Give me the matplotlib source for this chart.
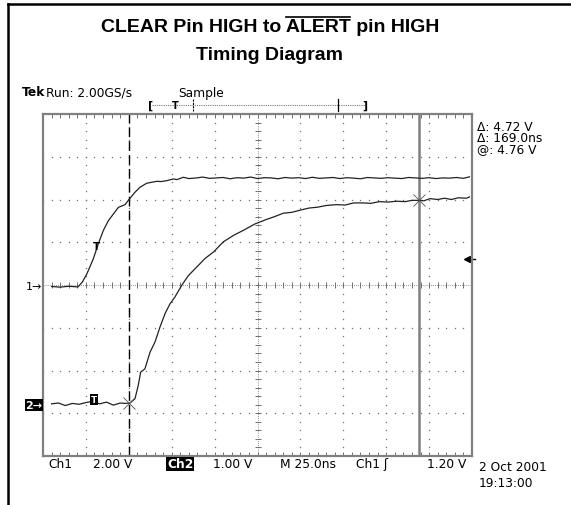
import numpy as np
import matplotlib
matplotlib.use("Agg")
import matplotlib.pyplot as plt
from matplotlib.lines import Line2D

W, H = 571, 506

# ---- data (time in ns from left edge, volts) ----
ch1_t = [5, 10, 15, 20.4, 23, 25.5, 29.3, 32.2, 35.1, 38.1, 41.0, 43.9, 47.8, 50.3,
         53.6, 56.5, 60.4, 63, 66.3, 69, 72.1, 75.9, 78, 81.8, 85, 89.6, 93, 97,
         101.2, 105, 109, 113, 117, 121, 125, 129, 133, 137, 141, 145, 149, 153,
         157, 161, 165, 169, 173, 177, 181, 185, 189, 193, 197, 201, 205, 209,
         213, 217, 221, 225, 229, 233, 237, 241, 245, 248.5]
ch1_v = [-0.07, -0.10, -0.06, -0.09, 0.15, 0.51, 1.22, 1.92, 2.54, 3.01, 3.32, 3.63,
         3.76, 4.02, 4.34, 4.57, 4.76, 4.80, 4.85, 4.84, 4.88, 4.96, 4.93, 5.04,
         4.98, 5.01, 5.05, 4.99, 5.01, 5.03, 4.97, 5.02, 5.00, 5.05, 4.98, 5.02,
         5.01, 4.97, 5.03, 5.00, 5.02, 4.98, 5.04, 4.99, 5.01, 5.03, 4.98, 5.02,
         5.00, 4.97, 5.03, 5.01, 4.99, 5.02, 5.00, 4.98, 5.03, 5.01, 4.99, 5.02,
         4.98, 5.01, 5.00, 5.03, 4.99, 5.06]

ch2_t = [5, 9, 13, 17, 21, 25, 29, 33, 37, 41, 45, 48, 50.7, 53.6, 55.5, 56.9, 59.4,
         62.4, 65.3, 68.2, 71.1, 74.0, 76.9, 80.8, 84.7, 89.6, 94.4, 99.3, 105.1,
         111.0, 116.8, 123.6, 130, 135, 140.1, 145, 149.8, 155, 160, 165, 171.2,
         176, 181, 186.7, 191, 196, 201, 206.1, 211, 215, 218.7, 222, 225.5, 230,
         234, 238, 242, 246.9, 248.5]
ch2_v = [0.02, 0.04, -0.02, 0.03, 0.01, 0.05, 0.08, 0.02, 0.06, -0.01, 0.04, 0.03,
         0.04, 0.14, 0.45, 0.76, 0.84, 1.23, 1.47, 1.82, 2.13, 2.36, 2.52, 2.79,
         3.02, 3.22, 3.42, 3.57, 3.81, 3.96, 4.08, 4.23, 4.33, 4.40, 4.48, 4.50,
         4.55, 4.60, 4.62, 4.66, 4.68, 4.67, 4.72, 4.72, 4.71, 4.75, 4.74, 4.76,
         4.75, 4.78, 4.78, 4.77, 4.82, 4.80, 4.83, 4.80, 4.84, 4.83, 4.86]

ch1_scale, ch1_offset = 2.0, 0.0     # V/div, div
ch2_scale, ch2_offset = 1.0, -2.8
cursor_t = [50.1, 219.2]
trig_level = 1.20

title1 = "CLEAR Pin HIGH to ALERT pin HIGH"
title_bar = "ALERT"
title2 = "Timing Diagram"
readout = ["\u0394: 4.72 V", "\u0394: 169.0ns", "@: 4.76 V"]

fig = plt.figure(figsize=(W / 100, H / 100), dpi=100)

def fx(x):
    return x / W

def fy(y):
    return 1 - y / H

# outer frame (top and left)
fig.add_artist(Line2D([fx(8), fx(571)], [fy(5), fy(5)], color="black", lw=1.8))
fig.add_artist(Line2D([fx(8), fx(8)], [fy(5), fy(506)], color="black", lw=1.8))

tkw = dict(fontsize=14, fontweight="bold", family="Liberation Sans")
t1 = fig.text(fx(270), fy(28), title1, ha="center", va="center", **tkw)
fig.text(fx(270), fy(55), title2, ha="center", va="center", **tkw)

# overline above ALERT
rend = fig.canvas.get_renderer()
bb = t1.get_window_extent(rend)
pre = title1[:title1.index(title_bar) + len(title_bar)]
tmp1 = fig.text(0, 0, pre, **tkw)
tmp2 = fig.text(0, 0, title_bar, **tkw)
w_pre = tmp1.get_window_extent(rend).width
w_bar = tmp2.get_window_extent(rend).width
tmp1.remove()
tmp2.remove()
x_end = bb.x0 + w_pre
x_start = x_end - w_bar
y_bar = fy(17.5)
fig.add_artist(Line2D([x_start / W + 0.001, x_end / W - 0.001], [y_bar, y_bar],
                      color="black", lw=1.2))

ax = fig.add_axes([fx(43), fy(457), 429 / W, 342 / H])
ax.set_xlim(0, 250)
ax.set_ylim(-4, 4)
ax.set_xticks([])
ax.set_yticks([])
for s in ax.spines.values():
    s.set_color("#808080")
    s.set_linewidth(1.6)

gc = "#707070"
# graticule dots
for k in range(1, 10):
    if k == 5:
        continue
    xs = k * 25
    ax.plot([xs] * 41, np.linspace(-4, 4, 41), ls="none", marker="s", ms=0.9,
            mec="none", mfc=gc)
for k in range(-3, 4):
    if k == 0:
        continue
    ax.plot(np.linspace(0, 250, 51), [k] * 51, ls="none", marker="s", ms=0.9,
            mec="none", mfc=gc)
# center axes with small ticks
ax.plot([125, 125], [-4, 4], color=gc, lw=0.6, ls=(0, (1, 1.5)))
ax.plot([0, 250], [0, 0], color=gc, lw=0.6, ls=(0, (1, 1.5)))
ax.plot([125] * 41, np.linspace(-4, 4, 41), ls="none", marker="_", ms=5,
        mew=0.7, color=gc)
ax.plot(np.linspace(0, 250, 51), [0] * 51, ls="none", marker="|", ms=5,
        mew=0.7, color=gc)
# edge ticks
ax.plot([0] * 41, np.linspace(-4, 4, 41), ls="none", marker=0, ms=3, mew=0.7, color=gc)
ax.plot([250] * 41, np.linspace(-4, 4, 41), ls="none", marker=1, ms=3, mew=0.7, color=gc)
ax.plot(np.linspace(0, 250, 51), [4] * 51, ls="none", marker=3, ms=3, mew=0.7, color=gc)
ax.plot(np.linspace(0, 250, 51), [-4] * 51, ls="none", marker=2, ms=3, mew=0.7, color=gc)

# cursors
ax.axvline(cursor_t[0], color="black", lw=1.0, ls=(0, (7, 3)))
ax.axvline(cursor_t[1], color="#808080", lw=1.8)

# traces
y1 = np.array(ch1_v) / ch1_scale + ch1_offset
y2 = np.array(ch2_v) / ch2_scale + ch2_offset
ax.plot(ch1_t, y1, color="#222222", lw=0.9)
ax.plot(ch2_t, y2, color="#222222", lw=0.9)

# cursor crossings on ch2
for ct in cursor_t:
    ax.plot(ct, np.interp(ct, ch2_t, y2), marker="x", ms=9, mew=0.6,
            color="#555555")

# trigger marks
ax.text(31.3, np.interp(31.3, ch1_t, y1) + 0.05, "T", fontsize=7.5, ha="center",
        va="center", fontweight="bold", family="DejaVu Sans")
ax.text(29.5, ch2_offset + 0.12, "T", fontsize=6.5, ha="center", va="center",
        color="white", fontweight="bold",
        bbox=dict(facecolor="black", edgecolor="none", pad=0.6))
ax.plot(247, trig_level / ch1_scale + ch1_offset, marker="<", ms=5, color="black")
ax.plot([247, 252], [trig_level / ch1_scale] * 2, color="black", lw=1.0, clip_on=False)

sf = "DejaVu Sans"
fs = 8.8
# channel markers on left
fig.text(fx(34), fy(287), "1\u2192", fontsize=fs - 0.8, ha="center", va="center",
         family=sf)
fig.text(fx(34), fy(406), "2\u2192", fontsize=fs - 0.8, ha="center", va="center",
         family=sf, color="white", fontweight="bold",
         bbox=dict(facecolor="black", edgecolor="none", pad=0.5))

# header
fig.text(fx(22), fy(93), "Tek", fontsize=fs, fontweight="bold", ha="left", va="center",
         family=sf)
fig.text(fx(46), fy(93), "Run: 2.00GS/s", fontsize=fs, ha="left", va="center", family=sf)
fig.text(fx(178), fy(93), "Sample", fontsize=fs, ha="left", va="center", family=sf)

# record bar
fig.add_artist(Line2D([fx(152), fx(366)], [fy(106), fy(106)], color="#777777", lw=0.8,
                      ls=(0, (1, 1))))
fig.text(fx(151), fy(106), "[", fontsize=8, ha="center", va="center", family=sf,
         fontweight="bold")
fig.text(fx(365), fy(106), "]", fontsize=8, ha="center", va="center", family=sf,
         fontweight="bold")
fig.text(fx(175), fy(106), "T", fontsize=7, ha="center", va="center", family=sf,
         fontweight="bold")
fig.add_artist(Line2D([fx(193), fx(193)], [fy(100), fy(112)], color="black", lw=0.8,
                      ls=(0, (2, 1))))
fig.add_artist(Line2D([fx(338), fx(338)], [fy(100), fy(112)], color="black", lw=0.9))

# readouts
fig.text(fx(477), fy(121), "\n".join(readout), fontsize=fs, ha="left", va="top",
         family=sf, linespacing=0.8)

# bottom status line
by = fy(465)
fig.text(fx(48), by, "Ch1", fontsize=fs, ha="left", va="center", family=sf)
fig.text(fx(93), by, "2.00 V", fontsize=fs, ha="left", va="center", family=sf)
fig.text(fx(167), by, "Ch2", fontsize=fs, ha="left", va="center", family=sf,
         color="white", fontweight="bold",
         bbox=dict(facecolor="black", edgecolor="none", pad=0.5))
fig.text(fx(213), by, "1.00 V", fontsize=fs, ha="left", va="center", family=sf)
fig.text(fx(280), by, "M 25.0ns", fontsize=fs, ha="left", va="center", family=sf)
fig.text(fx(356), by, "Ch1 \u0283", fontsize=fs, ha="left", va="center", family=sf)
fig.text(fx(427), by, "1.20 V", fontsize=fs, ha="left", va="center", family=sf)
fig.text(fx(479), fy(461), "2 Oct 2001\n19:13:00", fontsize=fs, ha="left", va="top",
         family=sf, linespacing=1.3)

fig.savefig("out.png", dpi=100)
